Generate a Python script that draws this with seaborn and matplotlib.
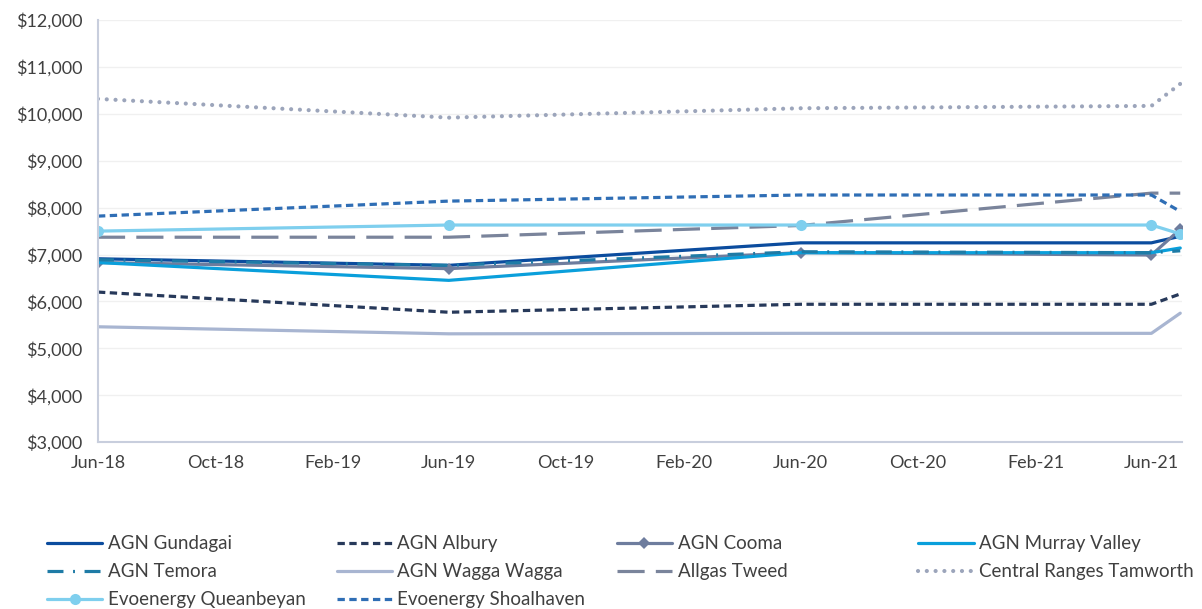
import matplotlib
matplotlib.use("Agg")
import matplotlib.pyplot as plt
import matplotlib.dates as mdates
from matplotlib.ticker import FuncFormatter
import seaborn as sns
import pandas as pd

dates = ["2018-06-01", "2019-06-01", "2020-06-01", "2021-06-01", "2021-07-01"]

agn_gundagai = [6910, 6770, 7250, 7250, 7390]
agn_albury = [6200, 5770, 5940, 5940, 6160]
agn_cooma = [6830, 6700, 7040, 6990, 7540]
agn_murray_valley = [6830, 6450, 7040, 7040, 7140]
agn_temora = [6890, 6770, 7060, 7040, 7080]
agn_wagga_wagga = [5460, 5310, 5320, 5320, 5750]
allgas_tweed = [7370, 7370, 7620, 8310, 8310]
central_ranges_tamworth = [10320, 9920, 10120, 10170, 10640]
evoenergy_queanbeyan = [7500, 7630, 7630, 7630, 7440]
evoenergy_shoalhaven = [7820, 8140, 8270, 8270, 7920]

series_names = ["AGN Gundagai", "AGN Albury", "AGN Cooma", "AGN Murray Valley",
                "AGN Temora", "AGN Wagga Wagga", "Allgas Tweed",
                "Central Ranges Tamworth", "Evoenergy Queanbeyan",
                "Evoenergy Shoalhaven"]
series_values = [agn_gundagai, agn_albury, agn_cooma, agn_murray_valley,
                 agn_temora, agn_wagga_wagga, allgas_tweed,
                 central_ranges_tamworth, evoenergy_queanbeyan,
                 evoenergy_shoalhaven]

y_ticks = [3000, 4000, 5000, 6000, 7000, 8000, 9000, 10000, 11000, 12000]
x_ticks = ["2018-06-01", "2018-10-01", "2019-02-01", "2019-06-01", "2019-10-01",
           "2020-02-01", "2020-06-01", "2020-10-01", "2021-02-01", "2021-06-01"]

styles = {
    "AGN Gundagai": dict(color="#0B4C9E", linestyle="-"),
    "AGN Albury": dict(color="#27395A", linestyle=(0, (2.3, 1.4))),
    "AGN Cooma": dict(color="#6E7D9E", linestyle="-", marker="D", markersize=6),
    "AGN Murray Valley": dict(color="#0A9FDB", linestyle="-"),
    "AGN Temora": dict(color="#1E7BA6", linestyle=(0, (5, 3, 0.6, 3))),
    "AGN Wagga Wagga": dict(color="#A8B5D1", linestyle="-"),
    "Allgas Tweed": dict(color="#7A849B", linestyle=(0, (8.5, 3.5))),
    "Central Ranges Tamworth": dict(color="#9CA5BB", linestyle=(0, (0.01, 2.1)),
                                    dash_capstyle="round", linewidth=3.0),
    "Evoenergy Queanbeyan": dict(color="#7FCFEE", linestyle="-", marker="o",
                                 markersize=8),
    "Evoenergy Shoalhaven": dict(color="#2F6EB5", linestyle=(0, (2.3, 1.4))),
}

df = pd.DataFrame({"date": pd.to_datetime(dates)})
for n, v in zip(series_names, series_values):
    df[n] = v

sns.set_style("white")
plt.rcParams["font.family"] = ["Lato", "DejaVu Sans"]

fig = plt.figure(figsize=(12.02, 6.09), dpi=100)
ax = fig.add_axes([0.0815, 0.274, 0.902, 0.693])

for n in series_names:
    kw = dict(styles[n])
    lw = kw.pop("linewidth", 2.3)
    sns.lineplot(data=df, x="date", y=n, ax=ax, label=n, linewidth=lw,
                 markeredgewidth=0, **kw)

ax.set_ylim(3000, 12000)
ax.set_xlim(pd.Timestamp("2018-06-01"), pd.Timestamp("2021-07-03"))
ax.set_yticks(y_ticks)
ax.yaxis.set_major_formatter(FuncFormatter(lambda v, p: f"${v:,.0f}"))
ax.set_xticks(pd.to_datetime(x_ticks))
ax.xaxis.set_major_formatter(mdates.DateFormatter("%b-%y"))
ax.set_xlabel("")
ax.set_ylabel("")
ax.grid(axis="y", color="#F0F0F0", linewidth=1)
ax.grid(axis="x", visible=False)
for s in ["top", "right"]:
    ax.spines[s].set_visible(False)
for s in ["left", "bottom"]:
    ax.spines[s].set_color("#C8CEDD")
    ax.spines[s].set_linewidth(1.5)
ax.tick_params(axis="both", colors="#C8CEDD", length=5, width=1.2,
               labelcolor="#404040", labelsize=13)
ax.tick_params(axis="x", pad=4)
ax.tick_params(axis="y", pad=6)

handles, labels = ax.get_legend_handles_labels()
ax.get_legend().remove()
columns = [[0, 4, 8], [1, 5, 9], [2, 6], [3, 7]]
col_x = [0.039, 0.280, 0.513, 0.764]
for cols, x in zip(columns, col_x):
    fig.legend([handles[i] for i in cols], [labels[i] for i in cols],
               loc="upper left", bbox_to_anchor=(x, 0.121), ncol=1,
               frameon=False, fontsize=13.5, handlelength=2.95,
               handletextpad=0.3, labelspacing=0.59, borderpad=0,
               borderaxespad=0, labelcolor="#404040")

fig.savefig("out.png", dpi=100)
